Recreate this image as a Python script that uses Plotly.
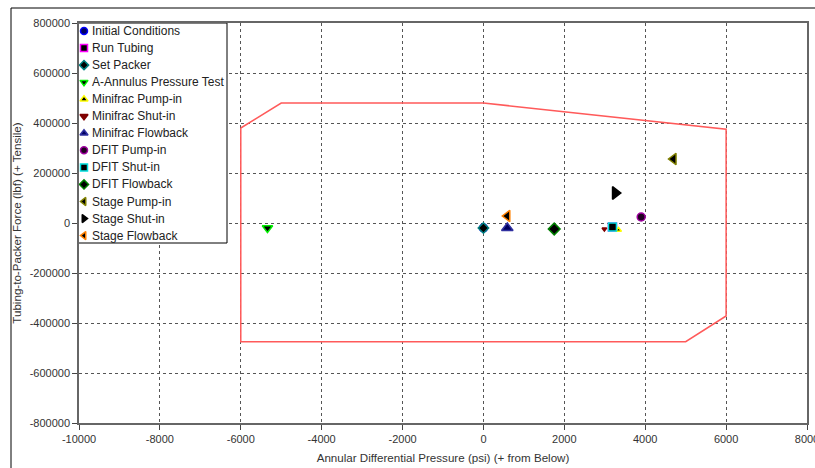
import plotly.graph_objects as go

# Load-case points: annular differential pressure (psi) vs tubing-to-packer force (lbf)
series_names = [
    "Initial Conditions", "Run Tubing", "Set Packer", "A-Annulus Pressure Test",
    "Minifrac Pump-in", "Minifrac Shut-in", "Minifrac Flowback",
    "DFIT Pump-in", "DFIT Shut-in", "DFIT Flowback",
    "Stage Pump-in", "Stage Shut-in", "Stage Flowback",
]
pressure_psi = [0, 3190, 0, -5340, 3340, 2990, 590, 3900, 3190, 1750, 4700, 3260, 590]
force_lbf = [-20000, -16000, -20000, -20000, -28000, -24000, -20000, 24000, -16000, -24000, 256000, 120000, 28000]

# Operating envelope (packer rating polygon)
envelope_psi = [-6000, -5000, 0, 6000, 6000, 5000, -6000, -6000]
envelope_lbf = [380000, 480000, 480000, 375000, -372000, -475000, -475000, 380000]

# Axis ticks
x_ticks = [-10000, -8000, -6000, -4000, -2000, 0, 2000, 4000, 6000, 8000]
x_tick_text = ["-10000", "-8000", "-6000", "-4000", "-2000", "0", "2000", "4000", "6000", "8000"]
y_ticks = [-800000, -600000, -400000, -200000, 0, 200000, 400000, 600000, 800000]
y_tick_text = ["-800000", "-600000", "-400000", "-200000", "0", "200000", "400000", "600000", "800000"]

# Marker styling per series: symbol, outline colour, fill colour, size
symbols = ["circle", "square", "diamond", "triangle-down", "triangle-up", "triangle-down",
           "triangle-up", "circle", "square", "diamond", "triangle-left", "triangle-right",
           "triangle-left"]
outline = ["#0000ff", "#ff00ff", "#008080", "#00ee00", "#ffff00", "#800000", "#3030a0",
           "#a000a0", "#00e0e0", "#008000", "#808000", "#000000", "#ff8000"]
fill = ["#000060", "#000000", "#000000", "#000000", "#000000", "#800000", "#000060",
        "#200020", "#000000", "#000000", "#000000", "#000000", "#000000"]
sizes = [8, 8, 8, 9, 5, 4, 10, 8, 8, 9, 10, 11, 10]

FONT = "Liberation Sans, Arial, sans-serif"
TXT = "#333333"
GRID = "#555555"

fig = go.Figure()

fig.add_trace(go.Scatter(
    x=envelope_psi, y=envelope_lbf, mode="lines",
    line=dict(color="rgb(255,90,90)", width=1.5),
    showlegend=False, hoverinfo="skip",
))

for i, name in enumerate(series_names):
    fig.add_trace(go.Scatter(
        x=[pressure_psi[i]], y=[force_lbf[i]], mode="markers", name=name,
        marker=dict(symbol=symbols[i], size=sizes[i], color=fill[i],
                    line=dict(color=outline[i], width=1.5)),
        showlegend=False,
    ))

# Legend panel drawn on a pixel-unit overlay (plot area is 728 x 400 px)
row_h = 17.05
box_w, box_h = 148, 220
fig.add_trace(go.Scatter(
    x=[-1, box_w, box_w, -1, -1], y=[0, 0, box_h, box_h, 0],
    mode="lines", fill="toself", fillcolor="white",
    line=dict(color="black", width=1),
    xaxis="x2", yaxis="y2", showlegend=False, hoverinfo="skip",
))
legend_y = [8 + row_h * i for i in range(len(series_names))]
fig.add_trace(go.Scatter(
    x=[5] * len(series_names), y=legend_y, mode="markers",
    marker=dict(symbol=symbols, size=7, color=fill,
                line=dict(color=outline, width=1.5)),
    xaxis="x2", yaxis="y2", showlegend=False, hoverinfo="skip",
))

annotations = []
for name, yy in zip(series_names, legend_y):
    annotations.append(dict(
        x=11, y=yy, xref="x2", yref="y2", text=name, showarrow=False,
        xanchor="left", yanchor="middle",
        font=dict(family=FONT, size=12, color="#222222"),
    ))

axis_common = dict(
    showgrid=True, gridcolor=GRID, gridwidth=1, griddash="3px,3px",
    zeroline=False, showline=True, linecolor="#666666", linewidth=1.5, mirror=True,
    ticks="outside", ticklen=5, tickcolor="#444444", tickwidth=1,
    tickfont=dict(family=FONT, size=11, color=TXT),
    ticklabeloverflow="allow", automargin=False,
)

fig.update_layout(
    width=815, height=468,
    margin=dict(l=79, r=8, t=23, b=45, autoexpand=False),
    paper_bgcolor="white", plot_bgcolor="white",
    xaxis=dict(
        range=[-10000, 8000], tickvals=x_ticks, ticktext=x_tick_text,
        title=dict(text="Annular Differential Pressure (psi) (+ from Below)",
                   font=dict(family=FONT, size=11.6, color=TXT), standoff=10),
        **axis_common,
    ),
    yaxis=dict(
        range=[-800000, 800000], tickvals=y_ticks, ticktext=y_tick_text,
        title=dict(text="Tubing-to-Packer Force (lbf) (+ Tensile)",
                   font=dict(family=FONT, size=11.6, color=TXT), standoff=6),
        **axis_common,
    ),
    xaxis2=dict(overlaying="x", range=[0, 728], visible=False, fixedrange=True),
    yaxis2=dict(overlaying="y", range=[400, 0], visible=False, fixedrange=True),
    annotations=annotations,
    shapes=[
        dict(type="line", xref="paper", yref="paper",
             x0=-0.0934, x1=-0.0934, y0=-0.3, y1=1.0375,
             line=dict(color="black", width=1)),
        dict(type="line", xref="paper", yref="paper",
             x0=-0.0934, x1=1.2, y0=1.0375, y1=1.0375,
             line=dict(color="black", width=1)),
    ],
    showlegend=False,
)

fig.write_html("out.html")
